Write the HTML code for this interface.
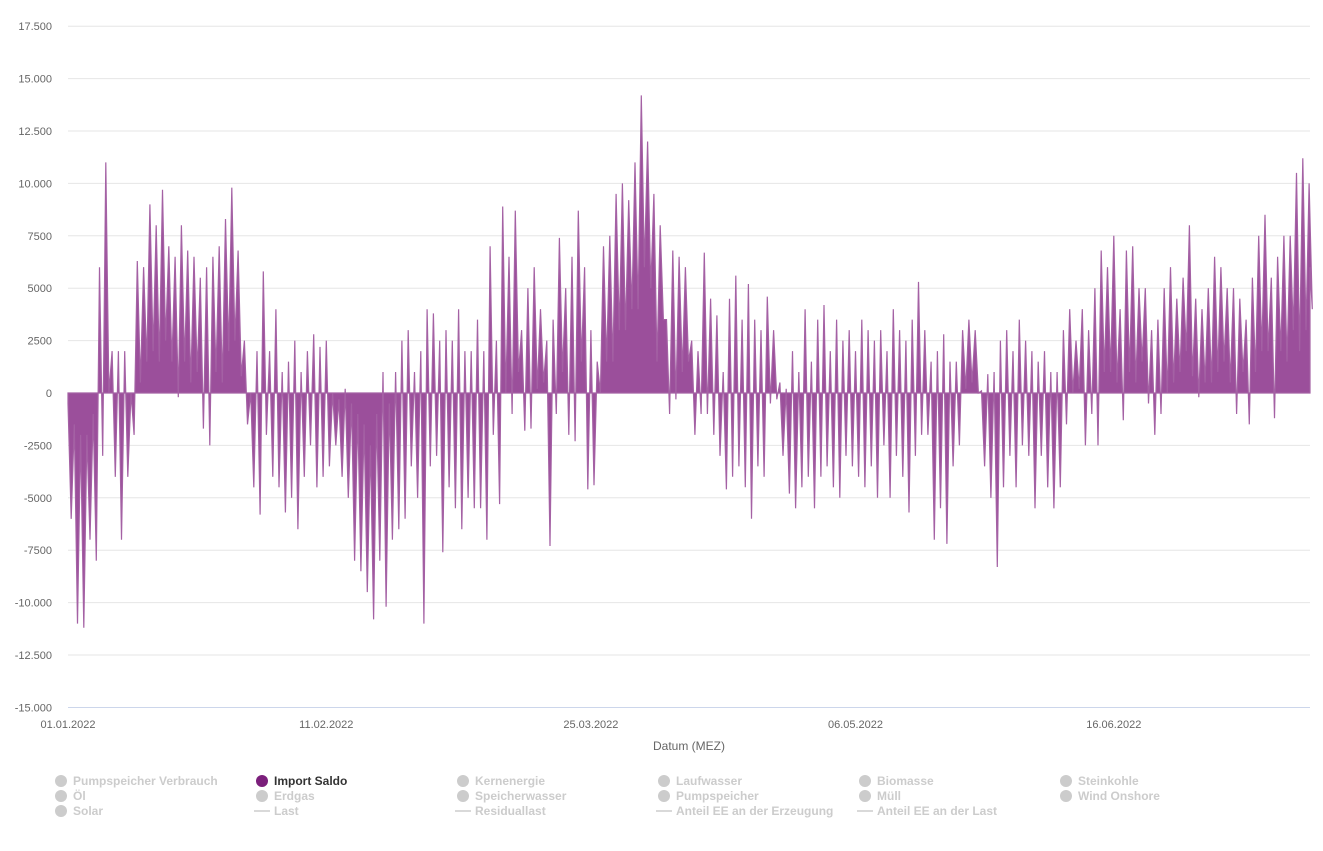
<!DOCTYPE html>
<html><head><meta charset="utf-8"><style>
body{margin:0;background:#fff;font-family:"Liberation Sans",sans-serif;}
svg{display:block}
</style></head><body>
<svg id="chart" width="1323" height="851"></svg>
<script>
const yTicks=[17500,15000,12500,10000,7500,5000,2500,0,-2500,-5000,-7500,-10000,-12500,-15000];
const yTickLabels=["17.500","15.000","12.500","10.000","7500","5000","2500","0","-2500","-5000","-7500","-10.000","-12.500","-15.000"];
const xTickDays=[0,41,83,125,166];
const xTickLabels=["01.01.2022","11.02.2022","25.03.2022","06.05.2022","16.06.2022"];
const dailyMax=[-500,-1500,-2000,-2000,-1000,6000,11000,2000,2000,2000,0,
6300,6000,9000,8000,9700,7000,6500,8000,6800,6500,5500,6000,6500,7000,8300,9800,6800,
2500,0,2000,5800,2000,4000,1000,1500,2500,1000,2000,2800,2200,2500,0,-300,200,-500,-1000,-1500,-2500,-1000,1000,-500,1000,2500,3000,1000,2000,4000,3800,2500,3000,2500,4000,2000,2000,3500,2000,7000,2500,8900,6500,8700,3000,5000,6000,4000,2500,3500,7400,5000,6500,8700,6000,3000,1500,7000,7500,9500,10000,9200,11000,14200,12000,9500,8000,3500,6800,6500,6000,2500,2000,6700,4500,3700,1000,4500,5600,3500,5200,3500,3000,4600,3000,500,200,2000,1000,4000,1500,3500,4200,2000,3500,2500,3000,2000,3500,3000,2500,3000,2000,4000,3000,2500,3500,5300,3000,1500,2000,2800,1500,1500,3000,3500,3000,100,900,1000,2500,3000,2000,3500,2500,2000,1500,2000,1000,1000,3000,4000,2500,4000,3000,5000,6800,6000,7500,4000,6800,7000,5000,5000,3000,3500,5000,6000,4500,5500,8000,4500,4000,5000,6500,6000,5000,5000,4500,3500,5500,7500,8500,5500,6500,7500,7500,10500,11200,10000];
const dailyMin=[-6000,-11000,-11200,-7000,-8000,-3000,0,-4000,-7000,-4000,-2000,
500,1500,2000,1500,2500,1500,-200,1500,500,1000,-1700,-2500,1000,500,2000,2500,800,
-1500,-4500,-5800,-2000,-4000,-4500,-5700,-5000,-6500,-4000,-2500,-4500,-4000,-3500,-2500,-4000,-5000,-8000,-8500,-9500,-10800,-8000,-10200,-7000,-6500,-6000,-3500,-5000,-11000,-3500,-3000,-7600,-4500,-5500,-6500,-5000,-5500,-5500,-7000,-2000,-5300,0,-1000,1000,-1800,-1700,200,500,-7300,-1000,1000,-2000,-2300,1500,-4600,-4400,0,1500,1500,3000,3000,4000,4000,6000,5000,1500,3500,-1000,-300,1000,1500,-2000,-1000,-1000,-2000,-3000,-4600,-4000,-3500,-4500,-6000,-3500,-4000,-500,-300,-3000,-4800,-5500,-4500,-4000,-5500,-4000,-3500,-4500,-5000,-3000,-3500,-4000,-4500,-3500,-5000,-2500,-5000,-3000,-4000,-5700,-3000,-2000,-2000,-7000,-5500,-7200,-3500,-2500,200,500,0,-3500,-5000,-8300,-4500,-3000,-4500,-2500,-3000,-5500,-3000,-4500,-5500,-4500,-1500,0,200,-2500,-1000,-2500,1000,1000,500,-1300,1000,500,1500,-500,-2000,-1000,0,500,1000,2000,800,-200,500,500,1000,1500,500,-1000,1000,-1500,1000,2000,2000,-1200,2000,1500,3000,2000,3000,4000];

const NS="http://www.w3.org/2000/svg";
const svg=document.getElementById('chart');
const X0=68,X1=1310,pxPerDay=6.3;
const xScale=d=>X0+d*pxPerDay;
const yScale=v=>393-v*(52.4/2500);
function mk(t,a,p){const e=document.createElementNS(NS,t);for(const k in a)e.setAttribute(k,a[k]);(p||svg).appendChild(e);return e;}

const grid=mk('g',{});


yTicks.forEach((v,i)=>{
  const y=yScale(v);
  if(v!==-15000){const l=mk('line',{x1:X0,x2:X1,y1:y,y2:y,stroke:'#e6e6e6','stroke-width':1},grid);
  
  }
  const t=mk('text',{x:52,y:y+4,'text-anchor':'end','font-size':11,fill:'#666'});
  t.textContent=yTickLabels[i];
  
  
});

let d='M'+xScale(0)+','+yScale(0);
for(let i=0;i<dailyMax.length;i++){
  d+=' L'+xScale(i).toFixed(1)+','+yScale(dailyMax[i]).toFixed(1);
  d+=' L'+xScale(i+0.5).toFixed(1)+','+yScale(dailyMin[i]).toFixed(1);
}
d+=' L'+X1+','+yScale(dailyMax[dailyMax.length-1]*0.6).toFixed(1)+' L'+X1+','+yScale(0)+' Z';
const area=mk('path',{d:d,fill:'#9b4f9b',stroke:'#a461a4','stroke-width':1.2,'stroke-linejoin':'miter'});



const ax=mk('line',{x1:X0,x2:X1,y1:707.5,y2:707.5,stroke:'#ccd6eb','stroke-width':1});


xTickDays.forEach((dd,i)=>{
  const t=mk('text',{x:xScale(dd),y:728,'text-anchor':'middle','font-size':11,fill:'#666'});
  t.textContent=xTickLabels[i];
  
  
});
const xt=mk('text',{x:689,y:750,'text-anchor':'middle','font-size':12,fill:'#666'});
xt.textContent='Datum (MEZ)';



const legendItems=[
 ["Pumpspeicher Verbrauch","c",0,0],["Import Saldo","c",1,0],["Kernenergie","c",2,0],["Laufwasser","c",3,0],["Biomasse","c",4,0],["Steinkohle","c",5,0],
 ["Öl","c",0,1],["Erdgas","c",1,1],["Speicherwasser","c",2,1],["Pumpspeicher","c",3,1],["Müll","c",4,1],["Wind Onshore","c",5,1],
 ["Solar","c",0,2],["Last","l",1,2],["Residuallast","l",2,2],["Anteil EE an der Erzeugung","l",3,2],["Anteil EE an der Last","l",4,2]];
legendItems.forEach(it=>{
  const active=it[0]==="Import Saldo";
  const g=mk('g',{});
  
  
  const cx=61+it[2]*201, cy=781+it[3]*15;
  if(it[1]==='c') mk('circle',{cx:cx,cy:cy,r:6,fill:active?'#7b1f7b':'#cccccc'},g);
  else mk('line',{x1:cx-8,x2:cx+8,y1:cy,y2:cy,stroke:'#cccccc','stroke-width':1.5},g);
  const t=mk('text',{x:cx+12,y:cy+4,'font-size':12,'font-weight':'bold',fill:active?'#333':'#cccccc'},g);
  t.textContent=it[0];
});
</script>
</body></html>
